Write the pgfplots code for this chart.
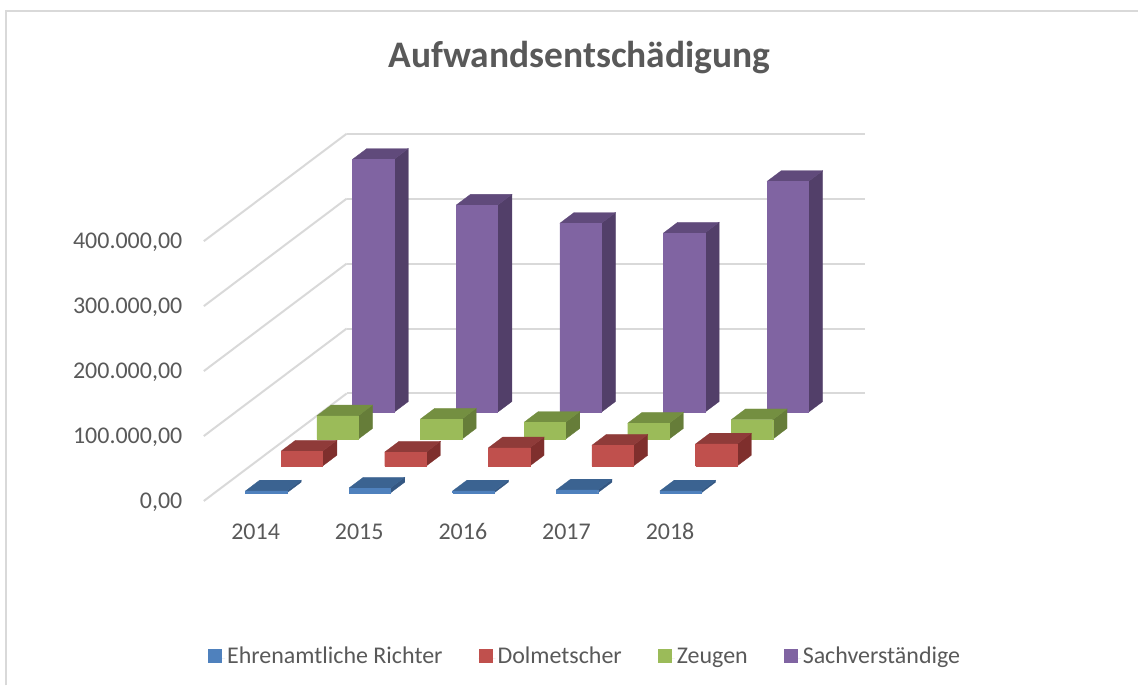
\documentclass[border=0pt]{standalone}
\usepackage{fontspec}
\setmainfont{Carlito}
\usepackage{pgfplots}
\pgfplotsset{compat=1.18}
\definecolor{txt}{HTML}{595959}
\definecolor{grd}{HTML}{D9D9D9}
\definecolor{bF}{HTML}{4F81BD}\definecolor{bT}{HTML}{3B6391}\definecolor{bS}{HTML}{345782}
\definecolor{rF}{HTML}{C0504D}\definecolor{rT}{HTML}{8F3B39}\definecolor{rS}{HTML}{7F2F2D}
\definecolor{gF}{HTML}{9BBB59}\definecolor{gT}{HTML}{748F41}\definecolor{gS}{HTML}{667D39}
\definecolor{pF}{HTML}{8064A2}\definecolor{pT}{HTML}{604A7B}\definecolor{pS}{HTML}{523F69}
% \barbox{category index}{row}{value in thousands}{colour prefix}
\newcommand{\barbox}[4]{%
  \pgfmathsetmacro{\xa}{#1+0.298}\pgfmathsetmacro{\xb}{#1+0.698}%
  \pgfmathsetmacro{\ya}{#2+0.3}\pgfmathsetmacro{\yb}{#2+0.7}%
  \addplot3[forget plot,fill=#4S,draw=#4S,line width=0.3pt] coordinates {(\xb,\ya,0)(\xb,\yb,0)(\xb,\yb,#3)(\xb,\ya,#3)(\xb,\ya,0)};
  \addplot3[forget plot,fill=#4T,draw=#4T,line width=0.3pt] coordinates {(\xa,\ya,#3)(\xb,\ya,#3)(\xb,\yb,#3)(\xa,\yb,#3)(\xa,\ya,#3)};
  \addplot3[forget plot,fill=#4F,draw=#4F,line width=0.3pt] coordinates {(\xa,\ya,0)(\xb,\ya,0)(\xb,\ya,#3)(\xa,\ya,#3)(\xa,\ya,0)};
}
\begin{document}
\begin{tikzpicture}
\begin{axis}[
  x={(103.7pt,0pt)}, y={(35.75pt,26.9pt)}, z={(0pt,0.65pt)},
  xmin=0,xmax=5,ymin=0,ymax=4,zmin=0,zmax=400,
  clip=false,
  axis line style={draw=none},
  major tick length=0pt,
  xtick={0.5,1.5,2.5,3.5,4.5},
  xticklabels={2014,2015,2016,2017,2018},
  ytick=\empty,
  ztick={0,100,200,300,400},
  zticklabels={{0,00},{100.000,00},{200.000,00},{300.000,00},{400.000,00}},
  zmajorgrids=true,
  major grid style={grd,line width=2pt},
  tick label style={font=\fontsize{24}{26}\selectfont,text=txt},
  x tick label style={anchor=base,yshift=-39pt},
  z tick label style={anchor=east,xshift=-18pt,yshift=-1.5pt},
  legend style={draw=none,fill=none,font=\fontsize{24}{26}\selectfont,text=txt,
    at={(axis cs:3.68,0,-243)},anchor=center,legend columns=4,
    nodes={text height=16pt,text depth=6pt,inner ysep=0pt},
    /tikz/every even column/.style={column sep=34pt},
    legend cell align=left},
  legend image code/.code={\fill[#1] (0pt,-4pt) rectangle (14pt,10pt);\path (0pt,0pt) -- (17pt,0pt);},
]
\path (axis cs:-1.9672,0,-284) rectangle (axis cs:9.0164,0,771.4);
\draw[grd,line width=2pt] (axis cs:-1.905,0,-284) -- (axis cs:-1.905,0,754.5) -- (axis cs:9.0164,0,754.5);
\node[font=\bfseries\fontsize{37.5}{40}\selectfont,text=txt] at (axis cs:3.625,0,683) {Aufwandsentschädigung};
\addlegendimage{fill=bF,draw=none}\addlegendentry{Ehrenamtliche Richter}
\addlegendimage{fill=rF,draw=none}\addlegendentry{Dolmetscher}
\addlegendimage{fill=gF,draw=none}\addlegendentry{Zeugen}
\addlegendimage{fill=pF,draw=none}\addlegendentry{Sachverständige}
% Sachverständige
\barbox{0}{3}{389.5}{p}\barbox{1}{3}{319}{p}\barbox{2}{3}{291}{p}\barbox{3}{3}{276}{p}\barbox{4}{3}{355.5}{p}
% Zeugen
\barbox{0}{2}{36}{g}\barbox{1}{2}{31}{g}\barbox{2}{2}{26}{g}\barbox{3}{2}{24.5}{g}\barbox{4}{2}{30}{g}
% Dolmetscher
\barbox{0}{1}{23}{r}\barbox{1}{1}{21.5}{r}\barbox{2}{1}{28}{r}\barbox{3}{1}{32}{r}\barbox{4}{1}{34}{r}
% Ehrenamtliche Richter
\barbox{0}{0}{3}{b}\barbox{1}{0}{7.5}{b}\barbox{2}{0}{3}{b}\barbox{3}{0}{4.5}{b}\barbox{4}{0}{3}{b}
\end{axis}
\end{tikzpicture}
\end{document}
